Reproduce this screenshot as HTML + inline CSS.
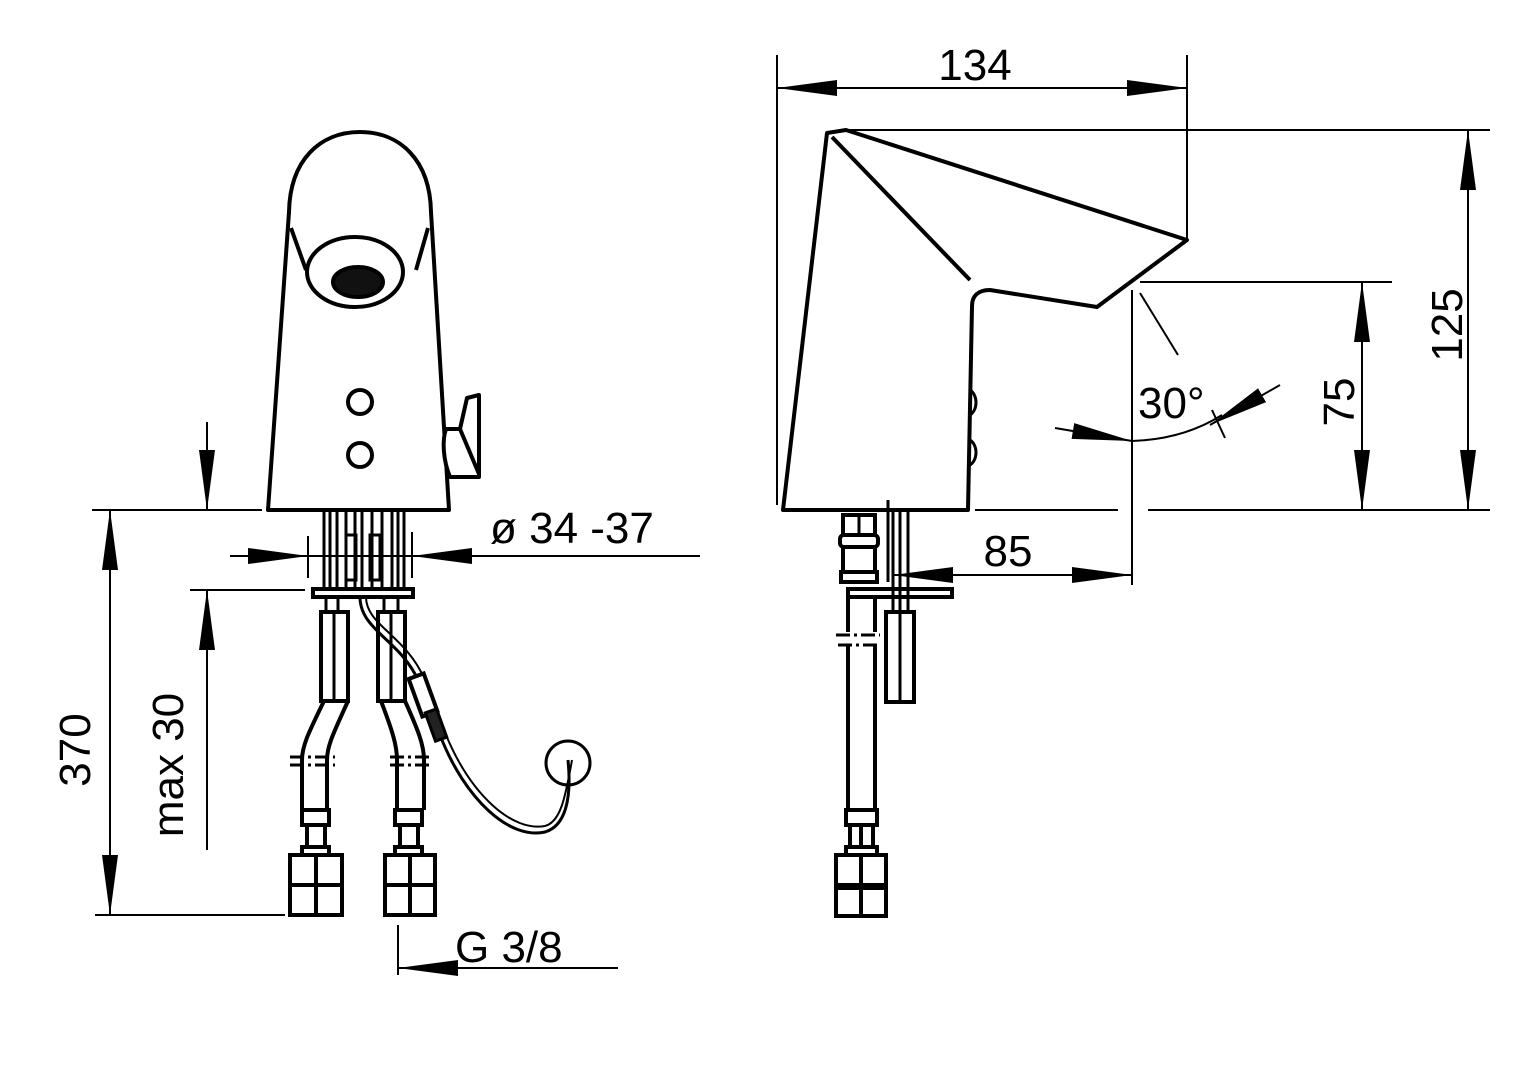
<!DOCTYPE html>
<html><head><meta charset="utf-8"><style>
html,body{margin:0;padding:0;background:#fff;}
svg{display:block;}
text{font-family:"Liberation Sans",sans-serif;fill:#000;}
</style></head><body>
<svg width="1528" height="1080" viewBox="0 0 1528 1080" xmlns="http://www.w3.org/2000/svg">
<defs>
<marker id="a" viewBox="0 0 60 20" refX="60" refY="10" markerWidth="60" markerHeight="20" markerUnits="userSpaceOnUse" orient="auto-start-reverse"><path d="M0,2 L60,10 L0,18 Z" fill="#000"/></marker>
</defs>
<g fill="none" stroke="#000" stroke-width="4" stroke-linejoin="round">
<path d="M268,510 L289,212 C290,160 320,132 360,132 C400,132 430,160 431,212 L449,510 Z" fill="#fff"/>
<path d="M291,228 L306,270 M428,228 L416,270"/>
<ellipse cx="355" cy="272" rx="48" ry="35" fill="#fff"/>
<ellipse cx="358" cy="282" rx="25" ry="15" fill="#111"/>
<circle cx="360" cy="402" r="12"/>
<circle cx="360" cy="455" r="12"/>
<path d="M446,429 L460,429 L467,398 L479,395 L479,477 L450,477 C443,460 442,440 446,429 Z M460,429 L479,474" fill="#fff"/>
</g>
<g fill="none" stroke="#000" stroke-width="3">
<path d="M324,512V588 M330,512V588 M337,512V588 M346,512V588 M355,512V588 M362,512V588 M372,512V588 M382,512V588 M392,512V588 M398,512V588 M404,512V588"/>
<rect x="346" y="535" width="10" height="45"/><rect x="370" y="535" width="10" height="45"/>
<rect x="313" y="589" width="100" height="8" stroke-width="4"/>
<path d="M326,597V612 M338,597V612 M384,597V612 M398,597V612"/>
<rect x="321" y="612" width="27" height="89" stroke-width="4"/><path d="M334,612V701 M391,612V701"/>
<rect x="378" y="612" width="27" height="89" stroke-width="4"/>
<path d="M324,701 C310,730 302,745 302,760 V810 M348,701 C335,730 327,745 327,760 V810" stroke-width="4"/>
<path d="M381,701 C392,730 397,745 397,760 V810 M405,701 C418,730 424,745 424,760 V810" stroke-width="4"/>
<path d="M290,757H335 M290,765H335 M390,757H432 M390,765H432" stroke-dasharray="14,4,3,4"/>
<g stroke-width="4">
<rect x="302" y="810" width="27" height="15"/><rect x="307" y="825" width="18" height="22"/><rect x="302" y="847" width="27" height="8"/>
<rect x="290" y="855" width="52" height="30"/><path d="M316,855V915"/><rect x="290" y="885" width="52" height="30"/>
<rect x="395" y="810" width="27" height="15"/><rect x="400" y="825" width="18" height="22"/><rect x="395" y="847" width="27" height="8"/>
<rect x="385" y="855" width="50" height="30"/><path d="M410,855V915"/><rect x="385" y="885" width="50" height="30"/>
</g>
<path d="M360,597 C360,630 400,640 418,680 L440,735 C465,800 510,840 545,832 C565,826 572,800 568,760" stroke-width="3"/>
<path d="M366,597 C366,625 405,635 424,678 L446,735 C471,795 512,832 545,826 C560,822 565,800 572,760" stroke-width="2"/>
<rect x="415" y="675" width="16" height="40" transform="rotate(-20 423 695)" fill="#fff" stroke-width="4"/>
<rect x="430" y="710" width="12" height="30" transform="rotate(-20 436 725)" fill="#222"/>
<circle cx="568" cy="763" r="22" stroke-width="3"/>
</g>
<g stroke="#000" stroke-width="2" fill="none">
<path d="M92,510H262 M95,915H285 M190,590H305 M230,556H700"/>
<line x1="110" y1="600" x2="110" y2="510" marker-end="url(#a)"/>
<line x1="110" y1="820" x2="110" y2="915" marker-end="url(#a)"/>
<line x1="207" y1="422" x2="207" y2="510" marker-end="url(#a)"/>
<line x1="207" y1="650" x2="207" y2="590" marker-end="url(#a)"/><path d="M207,650V850"/>
<path d="M110,600V820"/>
<line x1="230" y1="556" x2="308" y2="556" marker-end="url(#a)"/>
<line x1="470" y1="556" x2="412" y2="556" marker-end="url(#a)"/>
<path d="M308,536V578 M412,532V578"/>
<path d="M398,925V975"/>
<line x1="618" y1="968" x2="398" y2="968" marker-end="url(#a)"/>
</g>
<text x="90" y="750" font-size="44" transform="rotate(-90 90 750)" text-anchor="middle">370</text>
<text x="183" y="765" font-size="44" transform="rotate(-90 183 765)" text-anchor="middle">max 30</text>
<text x="490" y="543" font-size="44">ø 34 -37</text>
<text x="455" y="962" font-size="44">G 3/8</text>
<g fill="#fff" stroke="#000" stroke-width="4" stroke-linejoin="round">
<path d="M783,510 L827,133 L846,130 L1187,240 L1097,307 L990,290 C978,290 972,296 972,306 L968,510 Z"/>
<path d="M832,137 L970,280" fill="none"/>
<path d="M970,390 C978,395 978,410 970,415 M970,440 C978,445 978,460 970,465" fill="none" stroke-width="3"/>
</g>
<g fill="none" stroke="#000" stroke-width="3">
<rect x="843" y="515" width="32" height="20" stroke-width="4"/><path d="M859,515V535"/>
<rect x="840" y="535" width="38" height="12" rx="4" stroke-width="4"/>
<rect x="843" y="547" width="32" height="25" stroke-width="4"/>
<rect x="841" y="572" width="36" height="10" stroke-width="4"/>
<path d="M888,500V582 M893,512V612 M900,512V612 M908,512V612"/>
<rect x="848" y="589" width="104" height="8" stroke-width="4"/>
<rect x="886" y="612" width="28" height="90" stroke-width="4"/><path d="M900,612V702"/>
<path d="M848,597V632 M875,597V632" stroke-width="4"/>
<path d="M836,635H880 M838,645H880" stroke-dasharray="14,4,3,4"/>
<path d="M848,646V810 M875,646V810" stroke-width="4"/>
<g stroke-width="4">
<rect x="846" y="810" width="31" height="15"/><rect x="850" y="825" width="23" height="22"/><path d="M861,825V847"/><rect x="846" y="847" width="31" height="8"/>
<rect x="836" y="855" width="50" height="30"/><path d="M861,855V915"/><rect x="836" y="888" width="50" height="28"/>
<path d="M838,886H884" stroke-width="6"/>
</g>
</g>
<g stroke="#000" stroke-width="2" fill="none">
<path d="M777,55V505 M1187,55V240 M846,130H1490 M1148,510H1490 M1140,282H1392 M1132,290V585 M975,510H1118 M1140,293L1178,355"/>
<line x1="900" y1="88" x2="777" y2="88" marker-end="url(#a)"/>
<line x1="1060" y1="88" x2="1187" y2="88" marker-end="url(#a)"/><path d="M900,88H1060"/>
<line x1="1468" y1="250" x2="1468" y2="130" marker-end="url(#a)"/>
<line x1="1468" y1="400" x2="1468" y2="510" marker-end="url(#a)"/><path d="M1468,250V400"/>
<line x1="1362" y1="380" x2="1362" y2="282" marker-end="url(#a)"/>
<line x1="1362" y1="420" x2="1362" y2="510" marker-end="url(#a)"/><path d="M1362,380V420"/>
<line x1="1000" y1="575" x2="893" y2="575" marker-end="url(#a)"/>
<line x1="1050" y1="575" x2="1132" y2="575" marker-end="url(#a)"/><path d="M1000,575H1050"/>
<line x1="1055" y1="428" x2="1132" y2="441" marker-end="url(#a)"/>
<path d="M1132,441 C1165,440 1195,432 1222,415"/>
<line x1="1280" y1="385" x2="1210" y2="425" marker-end="url(#a)"/>
<path d="M1212,410L1225,438"/>
</g>
<text x="975" y="80" font-size="44" text-anchor="middle">134</text>
<text x="1462" y="325" font-size="44" transform="rotate(-90 1462 325)" text-anchor="middle">125</text>
<text x="1354" y="402" font-size="44" transform="rotate(-90 1354 402)" text-anchor="middle">75</text>
<text x="1008" y="566" font-size="44" text-anchor="middle">85</text>
<text x="1138" y="418" font-size="44">30°</text>
</svg>
</body></html>
